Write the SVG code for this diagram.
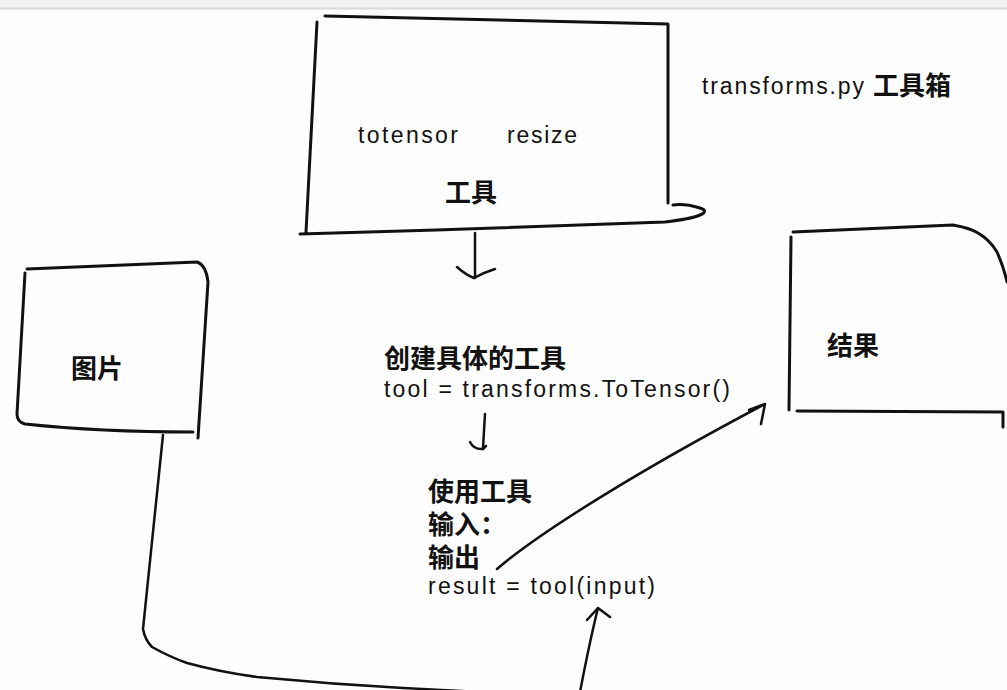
<svg xmlns="http://www.w3.org/2000/svg" width="1007" height="690" viewBox="0 0 1007 690">
<style>
.s{fill:none;stroke:#111;stroke-width:3;stroke-linecap:round;stroke-linejoin:round}
.c{stroke-width:2.5}
.h{font-family:"Liberation Sans","DejaVu Sans",sans-serif;font-size:23px;fill:#111}
.b{font-family:"Noto Sans CJK SC","Noto Sans",sans-serif;font-weight:bold;font-size:26px;fill:#111}
.u{font-family:"Liberation Sans","Noto Sans CJK SC",sans-serif;font-weight:bold;font-size:26px;fill:#111}
</style>
<rect x="0" y="0" width="1007" height="690" fill="#fdfdfd"/>
<rect x="0" y="0" width="1007" height="8" fill="#f2f2f2"/>
<line x1="0" y1="8.5" x2="1007" y2="8.5" stroke="#dadada" stroke-width="2"/>

<g id="toolbox">
<path class="s" d="M325,16 L668,24 M317,22 L306,232 M668,24 L668,203 M300,234 C420,231 560,226 665,222 C700,218 712,212 700,208 C690,205 680,204 673,205"/>
<text class="h" x="358" y="143" textLength="100">totensor</text>
<text class="h" x="507" y="143" textLength="70">resize</text>
<text class="b" x="445" y="202">工具</text>
</g>

<g id="title">
<text class="h" x="702" y="94" textLength="162">transforms.py</text>
<text class="b" x="873" y="95">工具箱</text>
</g>

<g id="image">
<path class="s" d="M27,269 L197,262 Q206,265 208,282 L198,438 M25,273 L17,414 Q17,422 25,424 Q100,432 193,432"/>
<text class="b" x="71" y="378">图片</text>
</g>

<g id="result">
<path class="s" d="M793,232 L953,225 Q970,228 978,233 Q990,240 997,252 Q1004,268 1007,282 M791,237 L789,410 M797,411 L1003,412 L1003,427"/>
<text class="b" x="827" y="355">结果</text>
</g>

<g id="create">
<text class="b" x="384" y="368">创建具体的工具</text>
<text class="h" x="384" y="397" textLength="346">tool = transforms.ToTensor()</text>
</g>

<g id="use">
<text class="u" x="428" y="501">使用工具</text>
<text class="u" x="428" y="534">输入：</text>
<text class="u" x="428" y="567">输出</text>
<text class="h" x="428" y="594" textLength="227">result = tool(input)</text>
</g>

<g id="connectors">
<path class="s c" d="M475,233 L475,278 M457,267 Q466,275 474,278 Q485,272 495,269"/>
<path class="s c" d="M485,414 L483,448 M470,442 Q474,450 483,449 M483,449 L486,446"/>
<path class="s c" d="M497,569 C540,532 640,470 765,404 M765,404 L749,410 M765,404 L761,424"/>
<path class="s c" d="M163,435 L143,629 Q145,640 152,647 Q170,657 187,663 Q220,672 257,677 Q330,684 403,688 L480,692"/>
<path class="s c" d="M580,692 Q590,640 598,608 M587,620 L598,608 L610,617"/>
</g>
</svg>
